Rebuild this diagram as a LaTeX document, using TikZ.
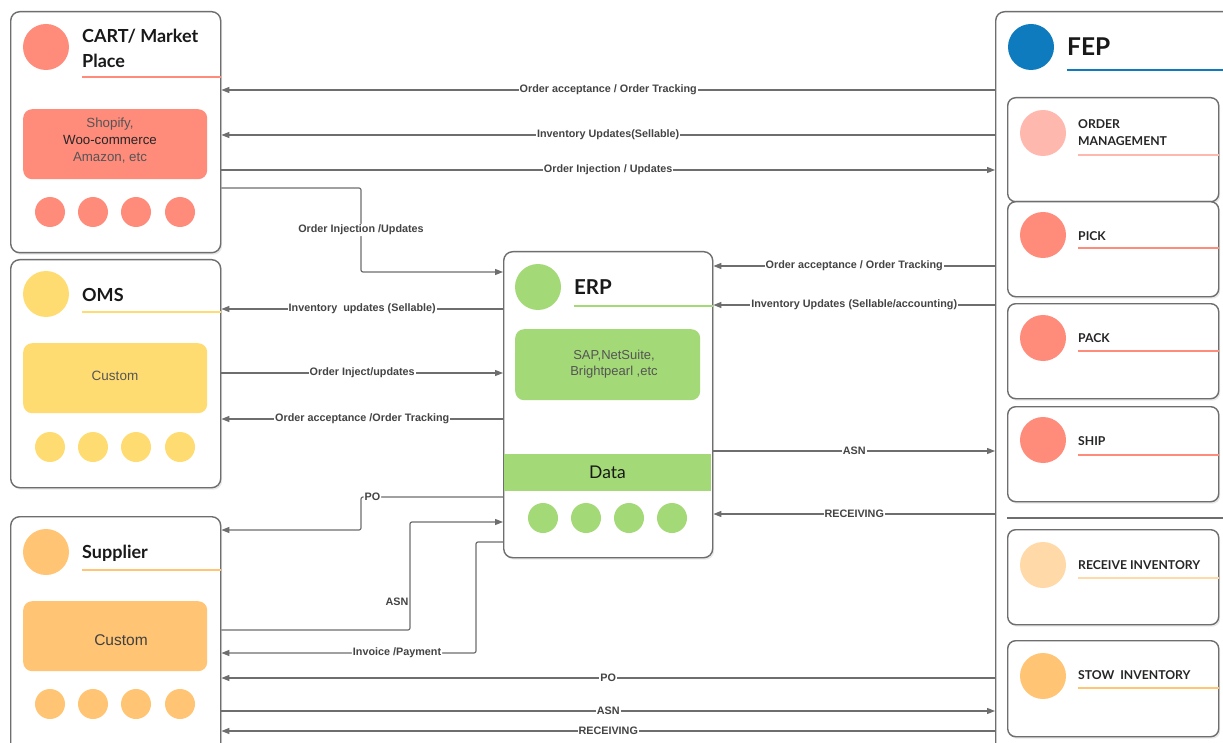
\documentclass[tikz,border=0pt]{standalone}
\usepackage{fontspec}
\setmainfont{Liberation Sans}
\newfontfamily\titlefont{Lato}
\usetikzlibrary{arrows.meta,shadows}
\definecolor{edge}{HTML}{6E6E6E}
\definecolor{salmon}{HTML}{FF8B7B}
\definecolor{pinkl}{HTML}{FFB8AE}
\definecolor{yell}{HTML}{FFDC72}
\definecolor{orng}{HTML}{FFC474}
\definecolor{peach}{HTML}{FFD9A8}
\definecolor{grn}{HTML}{A3D977}
\definecolor{blu}{HTML}{0D7BBE}
\definecolor{lbltext}{HTML}{444444}
\definecolor{boxtext}{HTML}{555555}
\begin{document}
\begin{tikzpicture}[x=1pt,y=-1pt,
  panel/.style={draw=edge, line width=1.4pt, rounded corners=9pt, fill=white,
    drop shadow={opacity=0.18, shadow xshift=1.5pt, shadow yshift=-2pt},
    anchor=north west, inner sep=0pt},
  subpanel/.style={panel, rounded corners=8pt, minimum width=211pt, minimum height=96pt},
  bigdot/.style={circle, minimum size=46pt, inner sep=0pt},
  smalldot/.style={circle, minimum size=30pt, inner sep=0pt},
  inner/.style={rounded corners=9pt, anchor=north west, inner sep=0pt},
  intext/.style={align=center, inner sep=0pt},
  title/.style={anchor=west, font=\titlefont\bfseries\fontsize{18}{25}\selectfont, text=black!90, align=left, inner sep=0pt},
  subtitle/.style={anchor=west, font=\titlefont\bfseries\fontsize{12.2}{17}\selectfont, text=black!85, align=left, inner sep=0pt},
  uline/.style={line width=1.5pt},
  arr/.style={draw=edge, line width=1.2pt, -{Triangle[length=8pt,width=6pt]}},
  lbl/.style={font=\bfseries\fontsize{10.8}{12}\selectfont, text=lbltext, fill=white, inner sep=1pt},
  lblnf/.style={font=\bfseries\fontsize{10.8}{12}\selectfont, text=lbltext, inner sep=1pt}
]
\useasboundingbox (0,0) rectangle (1223,743);
\fill[white] (0,0) rectangle (1223,743);

% ---------------- CART ----------------
\node[panel, minimum width=210pt, minimum height=241pt] (cart) at (10,11) {};
\node[bigdot, fill=salmon] (cartc) at (46,47) {};
\node[title] (cartt) at (82,48) {CART/ Market\\Place};
\draw[salmon, uline] (82,77) -- (cart.east |- 0,77);
\node[inner, fill=salmon, minimum width=184pt, minimum height=70pt] (cartin) at (23,109) {};
\node[intext, font=\fontsize{13.3}{17}\selectfont, text=boxtext] (cartinT) at (110,141)
  {Shopify,\\\textcolor{black!85}{Woo-commerce}\\Amazon, etc};
\foreach \x/\n in {50/1,93/2,136/3,180/4} \node[smalldot, fill=salmon] (cartd\n) at (\x,212) {};

% ---------------- OMS ----------------
\node[panel, minimum width=210pt, minimum height=228pt] (oms) at (10,259) {};
\node[bigdot, fill=yell] (omsc) at (46,294) {};
\node[title] (omst) at (82,295) {OMS};
\draw[yell, uline] (82,312) -- (oms.east |- 0,312);
\node[inner, fill=yell, minimum width=184pt, minimum height=70pt] (omsin) at (23,343) {};
\node[intext, font=\fontsize{13.5}{16}\selectfont, text=boxtext] (omsinT) at (115,376) {Custom};
\foreach \x/\n in {50/1,93/2,136/3,180/4} \node[smalldot, fill=yell] (omsd\n) at (\x,447) {};

% ---------------- Supplier ----------------
\node[panel, minimum width=210pt, minimum height=240pt] (sup) at (10,516) {};
\node[bigdot, fill=orng] (supc) at (46,552) {};
\node[title] (supt) at (82,553) {Supplier};
\draw[orng, uline] (82,570) -- (sup.east |- 0,570);
\node[inner, fill=orng, minimum width=184pt, minimum height=70pt] (supin) at (23,601) {};
\node[intext, font=\fontsize{15.5}{18}\selectfont, text=black!75] (supinT) at (121,640) {Custom};
\foreach \x/\n in {50/1,93/2,136/3,180/4} \node[smalldot, fill=orng] (supd\n) at (\x,704) {};

% ---------------- ERP ----------------
\node[panel, minimum width=209pt, minimum height=306pt] (erp) at (503,251) {};
\node[bigdot, fill=grn] (erpc) at (538,287) {};
\node[title, font=\titlefont\bfseries\fontsize{20.5}{24}\selectfont] (erpt) at (574,287) {ERP};
\draw[grn, uline] (574,306) -- (erp.east |- 0,306);
\node[inner, fill=grn, minimum width=185pt, minimum height=71pt] (erpin) at (515,329) {};
\node[intext, font=\fontsize{13}{16.5}\selectfont, text=boxtext] (erpinT) at (614,364)
  {SAP,NetSuite,\\Brightpearl ,etc};
\fill[grn] (503.7,454) rectangle (711.3,491);
\node[font=\titlefont\fontsize{17.5}{20}\selectfont, text=black!90] (erpdata) at (607.5,472.5) {Data};
\foreach \x/\n in {543/1,586/2,629/3,672/4} \node[smalldot, fill=grn] (erpd\n) at (\x,518) {};

% ---------------- FEP ----------------
\node[panel, minimum width=240pt, minimum height=745pt] (fep) at (995,11) {};
\node[bigdot, fill=blu] (fepc) at (1031,47) {};
\node[title, font=\titlefont\bfseries\fontsize{24.5}{28}\selectfont] (fept) at (1067,47) {FEP};
\draw[blu, uline] (1067,70) -- (1223,70);

\node[subpanel, minimum height=104pt] (om) at (1007,97) {};
\node[bigdot, fill=pinkl] (omc) at (1043,133) {};
\node[subtitle] (omt) at (1078,132.5) {ORDER\\MANAGEMENT};
\draw[pinkl, uline] (1078,155) -- (om.east |- 0,155);

\node[subpanel, minimum height=95pt] (pick) at (1007,201) {};
\node[bigdot, fill=salmon] (pickc) at (1043,235) {};
\node[subtitle] (pickt) at (1078,236) {PICK};
\draw[salmon, uline] (1078,248) -- (pick.east |- 0,248);

\node[subpanel, minimum height=95pt] (pack) at (1007,303) {};
\node[bigdot, fill=salmon] (packc) at (1043,338) {};
\node[subtitle] (packt) at (1078,338) {PACK};
\draw[salmon, uline] (1078,351) -- (pack.east |- 0,351);

\node[subpanel, minimum height=95pt] (ship) at (1007,406) {};
\node[bigdot, fill=salmon] (shipc) at (1043,440) {};
\node[subtitle] (shipt) at (1078,441) {SHIP};
\draw[salmon, uline] (1078,455) -- (ship.east |- 0,455);

\draw[edge, line width=1.2pt] (1007,518) -- (1223,518);

\node[subpanel, minimum height=95pt] (recv) at (1007,529) {};
\node[bigdot, fill=peach] (recvc) at (1043,565) {};
\node[subtitle] (recvt) at (1078,565) {RECEIVE INVENTORY};
\draw[peach, uline] (1078,578) -- (recv.east |- 0,578);

\node[subpanel, minimum height=96pt] (stow) at (1007,640) {};
\node[bigdot, fill=orng] (stowc) at (1043,676) {};
\node[subtitle] (stowt) at (1078,675) {STOW\ \ INVENTORY};
\draw[orng, uline] (1078,688) -- (stow.east |- 0,688);

% ---------------- connectors: FEP <-> CART ----------------
\draw[arr] (fep.west |- 0,90) -- node[lbl]{Order acceptance / Order Tracking} (cart.east |- 0,90);
\draw[arr] (fep.west |- 0,135) -- node[lbl]{Inventory Updates(Sellable)} (cart.east |- 0,135);
\draw[arr] (cart.east |- 0,170) -- node[lbl]{Order Injection / Updates} (fep.west |- 0,170);

% CART -> ERP
\draw[arr, rounded corners=2pt] (cart.east |- 0,188) -- (361,188) -- node[lbl]{Order Injection /Updates} (361,272) -- (erp.west |- 0,272);

% ERP <-> OMS
\draw[arr] (erp.west |- 0,309) -- node[lbl]{Inventory\ \ updates (Sellable)} (oms.east |- 0,309);
\draw[arr] (oms.east |- 0,373) -- node[lbl]{Order Inject/updates} (erp.west |- 0,373);
\draw[arr] (erp.west |- 0,419) -- node[lbl]{Order acceptance /Order Tracking} (oms.east |- 0,419);

% FEP <-> ERP
\draw[arr] (fep.west |- 0,266) -- node[lbl]{Order acceptance / Order Tracking} (erp.east |- 0,266);
\draw[arr] (fep.west |- 0,305) -- node[lbl]{Inventory Updates (Sellable/accounting)} (erp.east |- 0,305);
\draw[arr] (erp.east |- 0,451) -- node[lbl]{ASN} (fep.west |- 0,451);
\draw[arr] (fep.west |- 0,514) -- node[lbl]{RECEIVING} (erp.east |- 0,514);

% ERP <-> Supplier
\draw[arr, rounded corners=2pt] (erp.west |- 0,497) -- node[lbl, pos=0.92]{PO} (361,497) -- (361,530) -- (sup.east |- 0,530);
\draw[arr, rounded corners=2pt] (sup.east |- 0,630) -- (410,630) -- node[lblnf, pos=0.26, anchor=east]{ASN} (410,522) -- (erp.west |- 0,522);
\draw[arr, rounded corners=2pt] (erp.west |- 0,542) -- (476,542) -- (476,653) -- node[lbl, pos=0.31]{Invoice /Payment} (sup.east |- 0,653);

% FEP <-> Supplier
\draw[arr] (fep.west |- 0,678) -- node[lbl]{PO} (sup.east |- 0,678);
\draw[arr] (sup.east |- 0,711) -- node[lbl]{ASN} (fep.west |- 0,711);
\draw[arr] (fep.west |- 0,731) -- node[lbl]{RECEIVING} (sup.east |- 0,731);
\end{tikzpicture}
\end{document}
